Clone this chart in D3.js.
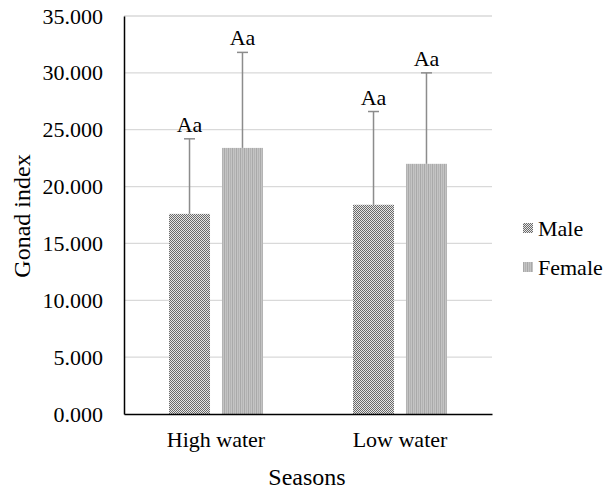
<!DOCTYPE html>
<html><head><meta charset="utf-8">
<script src="https://cdn.jsdelivr.net/npm/d3@7"></script>
<style>body{margin:0;background:#fff}svg{display:block}</style>
</head><body>
<script>
const categories = ["High water", "Low water"];
const seriesNames = ["Male", "Female"];
const maleValues = [17.6, 18.4];
const femaleValues = [23.4, 22.0];
const maleErrors = [6.6, 8.2];
const femaleErrors = [8.4, 8.0];
const labelsTop = [["Aa", "Aa"], ["Aa", "Aa"]];
const yTicks = [0, 5, 10, 15, 20, 25, 30, 35];

(function(){
const W = 612, H = 490;
const FF = '"Liberation Serif"';
const svg = d3.select("body").append("svg").attr("width", W).attr("height", H);
const defs = svg.append("defs");
const pm = defs.append("pattern").attr("id","pMale").attr("width",2).attr("height",2).attr("patternUnits","userSpaceOnUse");
pm.append("rect").attr("width",2).attr("height",2).attr("fill","#e6e6e6");
pm.append("rect").attr("width",1).attr("height",1).attr("fill","#6a6a6a");
pm.append("rect").attr("x",1).attr("y",1).attr("width",1).attr("height",1).attr("fill","#6a6a6a");
const pf = defs.append("pattern").attr("id","pFemale").attr("width",4).attr("height",4).attr("patternUnits","userSpaceOnUse");
pf.append("rect").attr("width",4).attr("height",4).attr("fill","#c4c4c4");
pf.append("rect").attr("x",0).attr("width",1).attr("height",4).attr("fill","#a9a9a9");
pf.append("rect").attr("x",2).attr("width",1).attr("height",4).attr("fill","#b3b3b3");

const pLeft = 124, pRight = 492, pTop = 16, pBottom = 414;
const y = d3.scaleLinear().domain([0, 35]).range([pBottom, pTop]);
const x0 = d3.scaleBand().domain(categories).range([pLeft, pRight]);
const x1 = d3.scaleBand().domain(seriesNames).range([0, x0.bandwidth()]).paddingInner(0.226).paddingOuter(0.85);

svg.append("g").selectAll("line").data(yTicks.filter(d => d > 0)).join("line")
  .attr("x1", pLeft).attr("x2", pRight).attr("y1", d => y(d)).attr("y2", d => y(d))
  .attr("stroke", "#d9d9d9").attr("stroke-width", 1.3);

const yAxis = svg.append("g").attr("transform", `translate(${pLeft},0)`)
  .call(d3.axisLeft(y).tickValues(yTicks).tickFormat(d3.format(".3f")).tickSize(0).tickPadding(21));
yAxis.attr("font-size", null).attr("font-family", null);
yAxis.select(".domain").attr("stroke", "#000").attr("stroke-width", 1.5);
yAxis.selectAll("text").style("font-family", FF).style("font-size", "22px").attr("fill", "#000");

const data = categories.map((c, i) => ({
  cat: c,
  items: [
    {s: "Male", v: maleValues[i], e: maleErrors[i], lab: labelsTop[i][0], fill: "url(#pMale)"},
    {s: "Female", v: femaleValues[i], e: femaleErrors[i], lab: labelsTop[i][1], fill: "url(#pFemale)"}
  ]
}));

const g = svg.append("g").selectAll("g").data(data).join("g")
  .attr("transform", d => `translate(${x0(d.cat)},0)`);
g.selectAll("rect").data(d => d.items).join("rect")
  .attr("x", d => x1(d.s)).attr("width", x1.bandwidth())
  .attr("y", d => y(d.v)).attr("height", d => y(0) - y(d.v))
  .attr("fill", d => d.fill);
g.selectAll("line.err").data(d => d.items).join("line").attr("class","err")
  .attr("x1", d => x1(d.s) + x1.bandwidth()/2).attr("x2", d => x1(d.s) + x1.bandwidth()/2)
  .attr("y1", d => y(d.v)).attr("y2", d => y(d.v + d.e))
  .attr("stroke", "#8c8c8c").attr("stroke-width", 1.5);
g.selectAll("line.cap").data(d => d.items).join("line").attr("class","cap")
  .attr("x1", d => x1(d.s) + x1.bandwidth()/2 - 5.5).attr("x2", d => x1(d.s) + x1.bandwidth()/2 + 5.5)
  .attr("y1", d => y(d.v + d.e)).attr("y2", d => y(d.v + d.e))
  .attr("stroke", "#8c8c8c").attr("stroke-width", 1.5);
g.selectAll("text").data(d => d.items).join("text")
  .attr("x", d => x1(d.s) + x1.bandwidth()/2).attr("y", d => y(d.v + d.e) - 7)
  .attr("text-anchor", "middle").style("font-family", FF).style("font-size", "22px")
  .text(d => d.lab);

const xAxis = svg.append("g").attr("transform", `translate(0,${pBottom})`)
  .call(d3.axisBottom(x0).tickSize(0).tickPadding(17));
xAxis.attr("font-size", null).attr("font-family", null);
xAxis.select(".domain").attr("stroke", "#000").attr("stroke-width", 1.5);
xAxis.selectAll("text").style("font-family", FF).style("font-size", "22px").attr("fill", "#000");

svg.append("text").attr("transform", "translate(30,216) rotate(-90)")
  .attr("text-anchor", "middle").style("font-family", FF).style("font-size", "24px").text("Gonad index");
svg.append("text").attr("x", 307).attr("y", 485)
  .attr("text-anchor", "middle").style("font-family", FF).style("font-size", "24px").text("Seasons");

const leg = svg.append("g").selectAll("g").data([{n: seriesNames[0], f: "url(#pMale)"}, {n: seriesNames[1], f: "url(#pFemale)"}]).join("g")
  .attr("transform", (d, i) => `translate(523,${228 + i * 39})`);
leg.append("rect").attr("x", 0).attr("y", -5).attr("width", 10).attr("height", 10).attr("fill", d => d.f);
leg.append("text").attr("x", 15).attr("y", 8).style("font-family", FF).style("font-size", "22px").text(d => d.n);
})();
</script>
</body></html>
